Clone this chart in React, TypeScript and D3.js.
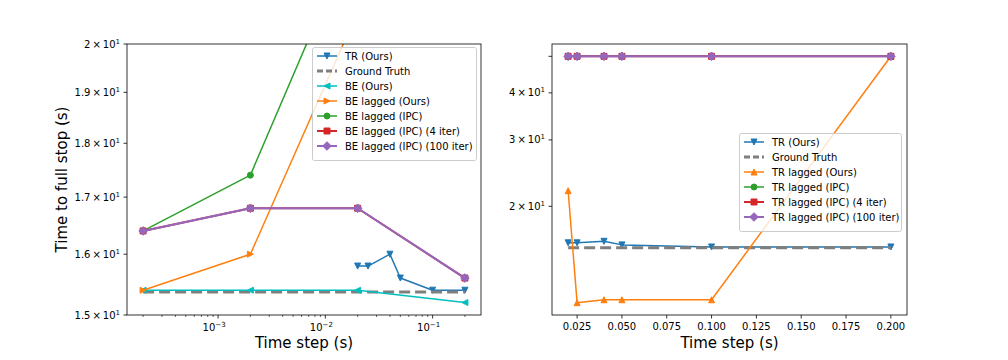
import { useRef, useEffect } from "react";
import * as d3 from "d3";

// ---- data ----
// left panel: backward-Euler comparison (log x, log y)
const leftTRX = [0.02, 0.025, 0.04, 0.05, 0.1, 0.2];
const leftTR = [15.8, 15.8, 16.0, 15.6, 15.4, 15.4];
const leftGTX = [0.0002, 0.2];
const leftGT = [15.37, 15.37];
const leftBEX = [0.0002, 0.002, 0.02, 0.2];
const leftBE = [15.4, 15.4, 15.4, 15.2];
const leftLagX = [0.0002, 0.002, 0.02];
const leftBELagOurs = [15.4, 16.0, 20.7];
const leftBELagIPC = [16.4, 17.4, 22.7];
const leftIterX = [0.0002, 0.002, 0.02, 0.2];
const leftBELagIPC4 = [16.4, 16.8, 16.8, 15.6];
const leftBELagIPC100 = [16.4, 16.8, 16.8, 15.6];
const leftYTicks = [15, 16, 17, 18, 19, 20];
const leftXTicks = [0.001, 0.01, 0.1];
const leftXTickLabels = ["\u22123", "\u22122", "\u22121"];

// right panel: trapezoidal-rule comparison (linear x, log y)
const rightX = [0.02, 0.025, 0.04, 0.05, 0.1, 0.2];
const rightTR = [16.0, 16.0, 16.15, 15.8, 15.6, 15.6];
const rightGTX = [0.02, 0.2];
const rightGT = [15.52, 15.52];
const rightTRLagOurs = [22.0, 11.1, 11.3, 11.3, 11.3, 50];
const rightTRLagIPC = [50, 50, 50, 50, 50, 50];
const rightTRLagIPC4 = [50, 50, 50, 50, 50, 50];
const rightTRLagIPC100 = [50, 50, 50, 50, 50, 50];
const rightYTicks = [20, 30, 40, 50];
const rightYLabelled = [20, 30, 40];
const rightXTicks = [0.025, 0.05, 0.075, 0.1, 0.125, 0.15, 0.175, 0.2];

const C = {
  blue: "#1f77b4",
  orange: "#ff7f0e",
  green: "#2ca02c",
  red: "#d62728",
  purple: "#9467bd",
  gray: "#7f7f7f",
  cyan: "#00bfbf",
};

const FONT = "DejaVu Sans, sans-serif";

// marker path centred on 0,0
function markerPath(kind) {
  const r = 3;
  switch (kind) {
    case "v":
      return `M${-r},${-r}L${r},${-r}L0,${r}Z`;
    case "^":
      return `M${-r},${r}L${r},${r}L0,${-r}Z`;
    case "<":
      return `M${r},${-r}L${r},${r}L${-r},0Z`;
    case ">":
      return `M${-r},${-r}L${-r},${r}L${r},0Z`;
    case "s":
      return `M${-r},${-r}H${r}V${r}H${-r}Z`;
    case "D": {
      const d = 4.3;
      return `M0,${-d}L${d},0L0,${d}L${-d},0Z`;
    }
    default:
      return null;
  }
}

function drawMarker(g, kind, color, x, y) {
  if (kind === "o") {
    g.append("circle")
      .attr("cx", x)
      .attr("cy", y)
      .attr("r", 3)
      .attr("fill", color)
      .attr("stroke", color)
      .attr("stroke-width", 1);
  } else if (kind) {
    g.append("path")
      .attr("d", markerPath(kind))
      .attr("transform", `translate(${x},${y})`)
      .attr("fill", color)
      .attr("stroke", color)
      .attr("stroke-width", 1)
      .attr("stroke-linejoin", "miter");
  }
}

// "m × 10^1" style label
function sciLabel(sel, mant) {
  sel.append("tspan").text(`${mant}\u2009\u00d7\u200910`);
  sel.append("tspan").attr("dy", -4).attr("font-size", 7).text("1");
}

function drawSeries(g, xs, ys, x, y, s) {
  const line = d3
    .line()
    .x((d) => x(d[0]))
    .y((d) => y(d[1]));
  const pts = xs.map((v, i) => [v, ys[i]]);
  const p = g
    .append("path")
    .attr("d", line(pts))
    .attr("fill", "none")
    .attr("stroke", s.color)
    .attr("stroke-width", s.lw || 1.5)
    .attr("stroke-linejoin", "round");
  if (s.dash) p.attr("stroke-dasharray", s.dash);
  pts.forEach((d) => drawMarker(g, s.marker, s.color, x(d[0]), y(d[1])));
}

function drawLegend(svg, left, top, width, items) {
  const rowH = 15;
  const h = items.length * rowH + 8;
  const g = svg.append("g").attr("font-family", FONT).attr("font-size", 10);
  g.append("rect")
    .attr("x", left + 0.5)
    .attr("y", top + 0.5)
    .attr("width", width)
    .attr("height", h)
    .attr("rx", 2)
    .attr("fill", "white")
    .attr("fill-opacity", 0.8)
    .attr("stroke", "#cccccc")
    .attr("stroke-width", 1);
  items.forEach((it, i) => {
    const cy = top + 9 + i * rowH;
    const l = g
      .append("line")
      .attr("x1", left + 5)
      .attr("x2", left + 25)
      .attr("y1", cy)
      .attr("y2", cy)
      .attr("stroke", it.color)
      .attr("stroke-width", it.lw || 1.5);
    if (it.dash) l.attr("stroke-dasharray", it.dash);
    drawMarker(g, it.marker, it.color, left + 15, cy);
    g.append("text")
      .attr("x", left + 33)
      .attr("y", cy)
      .attr("dy", "0.35em")
      .attr("fill", "#000")
      .text(it.label);
  });
}

function App() {
  const ref = useRef(null);

  useEffect(() => {
    const svg = d3.select(ref.current);
    svg.selectAll("*").remove();

    const top = 44;
    const bottom = 315;

    // ---------- left panel ----------
    const L = { l: 127, r: 481 };
    const lx0 = Math.log10(0.0002) - 0.15;
    const lx1 = Math.log10(0.2) + 0.15;
    const xL = d3
      .scaleLog()
      .domain([10 ** lx0, 10 ** lx1])
      .range([L.l, L.r]);
    const yL = d3.scaleLog().domain([15, 20]).range([bottom, top]);

    svg
      .append("clipPath")
      .attr("id", "clipL")
      .append("rect")
      .attr("x", L.l)
      .attr("y", top)
      .attr("width", L.r - L.l)
      .attr("height", bottom - top);

    const gL = svg.append("g").attr("clip-path", "url(#clipL)");
    const leftSeries = [
      { xs: leftTRX, ys: leftTR, color: C.blue, marker: "v" },
      { xs: leftGTX, ys: leftGT, color: C.gray, lw: 3, dash: "11,5" },
      { xs: leftBEX, ys: leftBE, color: C.cyan, marker: "<" },
      { xs: leftLagX, ys: leftBELagOurs, color: C.orange, marker: ">" },
      { xs: leftLagX, ys: leftBELagIPC, color: C.green, marker: "o" },
      { xs: leftIterX, ys: leftBELagIPC4, color: C.red, marker: "s", lw: 2 },
      { xs: leftIterX, ys: leftBELagIPC100, color: C.purple, marker: "D", lw: 2 },
    ];
    leftSeries.forEach((s) => drawSeries(gL, s.xs, s.ys, xL, yL, s));

    // left frame and ticks
    const axL = svg.append("g").attr("font-family", FONT).attr("font-size", 10);
    axL
      .append("rect")
      .attr("x", L.l)
      .attr("y", top)
      .attr("width", L.r - L.l)
      .attr("height", bottom - top)
      .attr("fill", "none")
      .attr("stroke", "#000")
      .attr("stroke-width", 0.8);

    // minor x ticks
    for (let e = -4; e <= 0; e++) {
      for (let m = 2; m <= 9; m++) {
        const v = m * 10 ** e;
        if (v < xL.domain()[0] || v > xL.domain()[1]) continue;
        axL
          .append("line")
          .attr("x1", xL(v))
          .attr("x2", xL(v))
          .attr("y1", bottom)
          .attr("y2", bottom + 2)
          .attr("stroke", "#000")
          .attr("stroke-width", 0.6);
      }
    }
    leftXTicks.forEach((v, i) => {
      axL
        .append("line")
        .attr("x1", xL(v))
        .attr("x2", xL(v))
        .attr("y1", bottom)
        .attr("y2", bottom + 3.5)
        .attr("stroke", "#000")
        .attr("stroke-width", 0.8);
      const t = axL
        .append("text")
        .attr("x", xL(v) - 4)
        .attr("y", bottom + 16)
        .attr("text-anchor", "middle")
        .attr("fill", "#000");
      t.append("tspan").text("10");
      t.append("tspan").attr("dy", -4).attr("font-size", 7).text(leftXTickLabels[i]);
    });
    leftYTicks.forEach((v) => {
      axL
        .append("line")
        .attr("x1", L.l - 3.5)
        .attr("x2", L.l)
        .attr("y1", yL(v))
        .attr("y2", yL(v))
        .attr("stroke", "#000")
        .attr("stroke-width", 0.8);
      const t = axL
        .append("text")
        .attr("x", L.l - 7)
        .attr("y", yL(v))
        .attr("dy", "0.35em")
        .attr("text-anchor", "end")
        .attr("fill", "#000");
      sciLabel(t, v === 20 ? "2" : (v / 10).toFixed(1));
    });

    // ---------- right panel ----------
    const R = { l: 552, r: 907 };
    const xr0 = 0.02 - 0.009;
    const xr1 = 0.2 + 0.009;
    const xR = d3.scaleLinear().domain([xr0, xr1]).range([R.l, R.r]);
    const allR = [...rightTR, ...rightTRLagOurs, ...rightTRLagIPC, ...rightGT];
    const lmin = Math.log(d3.min(allR));
    const lmax = Math.log(d3.max(allR));
    const pad = (lmax - lmin) * 0.05;
    const yR = d3
      .scaleLog()
      .domain([Math.exp(lmin - pad), Math.exp(lmax + pad)])
      .range([bottom, top]);

    svg
      .append("clipPath")
      .attr("id", "clipR")
      .append("rect")
      .attr("x", R.l)
      .attr("y", top)
      .attr("width", R.r - R.l)
      .attr("height", bottom - top);

    const gR = svg.append("g").attr("clip-path", "url(#clipR)");
    const rightSeries = [
      { xs: rightX, ys: rightTR, color: C.blue, marker: "v" },
      { xs: rightGTX, ys: rightGT, color: C.gray, lw: 3, dash: "11,5" },
      { xs: rightX, ys: rightTRLagOurs, color: C.orange, marker: "^" },
      { xs: rightX, ys: rightTRLagIPC, color: C.green, marker: "o" },
      { xs: rightX, ys: rightTRLagIPC4, color: C.red, marker: "s", lw: 2 },
      { xs: rightX, ys: rightTRLagIPC100, color: C.purple, marker: "D", lw: 2 },
    ];
    rightSeries.forEach((s) => drawSeries(gR, s.xs, s.ys, xR, yR, s));

    const axR = svg.append("g").attr("font-family", FONT).attr("font-size", 10);
    axR
      .append("rect")
      .attr("x", R.l)
      .attr("y", top)
      .attr("width", R.r - R.l)
      .attr("height", bottom - top)
      .attr("fill", "none")
      .attr("stroke", "#000")
      .attr("stroke-width", 0.8);
    rightXTicks.forEach((v) => {
      axR
        .append("line")
        .attr("x1", xR(v))
        .attr("x2", xR(v))
        .attr("y1", bottom)
        .attr("y2", bottom + 3.5)
        .attr("stroke", "#000")
        .attr("stroke-width", 0.8);
      axR
        .append("text")
        .attr("x", xR(v))
        .attr("y", bottom + 15)
        .attr("text-anchor", "middle")
        .attr("fill", "#000")
        .text(v.toFixed(3));
    });
    rightYTicks.forEach((v) => {
      axR
        .append("line")
        .attr("x1", R.l - 3.5)
        .attr("x2", R.l)
        .attr("y1", yR(v))
        .attr("y2", yR(v))
        .attr("stroke", "#000")
        .attr("stroke-width", 0.8);
      if (!rightYLabelled.includes(v)) return;
      const t = axR
        .append("text")
        .attr("x", R.l - 7)
        .attr("y", yR(v))
        .attr("dy", "0.35em")
        .attr("text-anchor", "end")
        .attr("fill", "#000");
      sciLabel(t, String(v / 10));
    });

    // axis titles
    const titles = svg.append("g").attr("font-family", FONT).attr("font-size", 15).attr("fill", "#000");
    titles
      .append("text")
      .attr("x", (L.l + L.r) / 2)
      .attr("y", 348)
      .attr("text-anchor", "middle")
      .text("Time step (s)");
    titles
      .append("text")
      .attr("x", (R.l + R.r) / 2)
      .attr("y", 348)
      .attr("text-anchor", "middle")
      .text("Time step (s)");
    titles
      .append("text")
      .attr("transform", `translate(67,${(top + bottom) / 2}) rotate(-90)`)
      .attr("text-anchor", "middle")
      .text("Time to full stop (s)");

    // legends
    drawLegend(svg, 312, 47, 164, [
      { label: "TR (Ours)", color: C.blue, marker: "v" },
      { label: "Ground Truth", color: C.gray, lw: 3, dash: "6,3" },
      { label: "BE (Ours)", color: C.cyan, marker: "<" },
      { label: "BE lagged (Ours)", color: C.orange, marker: ">" },
      { label: "BE lagged (IPC)", color: C.green, marker: "o" },
      { label: "BE lagged (IPC) (4 iter)", color: C.red, marker: "s", lw: 2 },
      { label: "BE lagged (IPC) (100 iter)", color: C.purple, marker: "D", lw: 2 },
    ]);
    drawLegend(svg, 739, 133, 162, [
      { label: "TR (Ours)", color: C.blue, marker: "v" },
      { label: "Ground Truth", color: C.gray, lw: 3, dash: "6,3" },
      { label: "TR lagged (Ours)", color: C.orange, marker: "^" },
      { label: "TR lagged (IPC)", color: C.green, marker: "o" },
      { label: "TR lagged (IPC) (4 iter)", color: C.red, marker: "s", lw: 2 },
      { label: "TR lagged (IPC) (100 iter)", color: C.purple, marker: "D", lw: 2 },
    ]);
  }, []);

  return (
    <svg
      ref={ref}
      width={1008}
      height={360}
      style={{ position: "absolute", left: 0, top: 0, background: "white" }}
    />
  );
}

export default App;
